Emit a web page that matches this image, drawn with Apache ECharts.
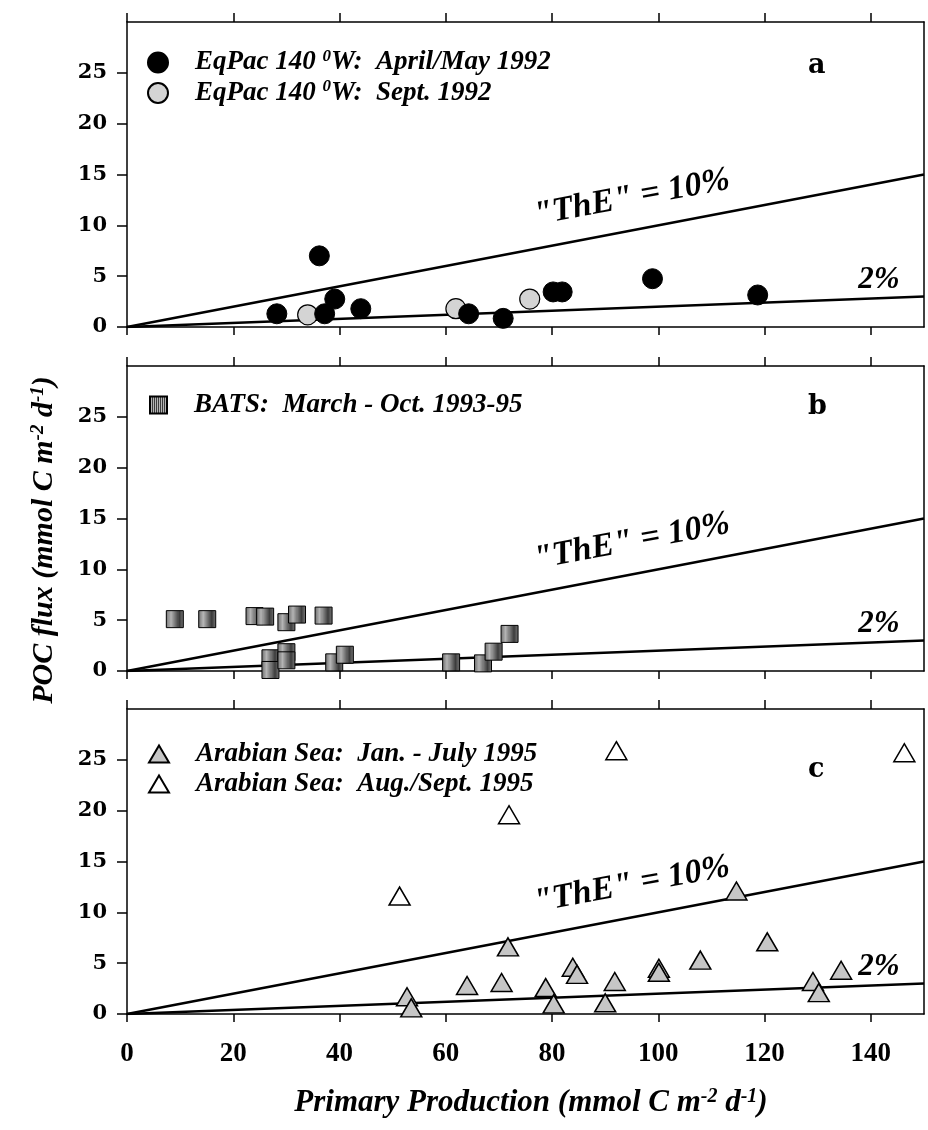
<!DOCTYPE html>
<html><head><meta charset="utf-8">
<script src="https://cdn.jsdelivr.net/npm/echarts@6/dist/echarts.min.js"></script>
<style>html,body{margin:0;padding:0;background:#fff}#c{width:928px;height:1130px}</style>
</head><body><div id="c"></div>
<script>
// ---------- data ----------
const xTicks = [0, 20, 40, 60, 80, 100, 120, 140];
const yTicks = [0, 5, 10, 15, 20, 25];
const xRange = [0, 150];
const yRange = [0, 30];

const eqpacAprMay = [[28.2,1.3],[36.2,7.0],[37.2,1.3],[39.1,2.75],[44.0,1.8],[64.3,1.3],[70.8,0.85],[80.2,3.45],[81.9,3.45],[98.9,4.75],[118.7,3.15]];
const eqpacSept = [[34.0,1.2],[61.9,1.8],[75.8,2.75]];
const bats = [[9.0,5.1],[15.1,5.1],[24.0,5.4],[26.0,5.35],[30.0,4.8],[32.0,5.55],[37.0,5.45],[27.0,1.25],[27.0,0.1],[30.0,1.85],[30.0,1.05],[39.0,0.85],[41.0,1.6],[61.0,0.85],[67.0,0.75],[69.0,1.9],[72.0,3.65]];
const arabJanJul = [[52.7,1.7],[53.5,0.6],[64.0,2.8],[70.5,3.1],[71.7,6.6],[78.8,2.6],[80.3,1.0],[83.9,4.6],[84.7,3.9],[90.0,1.1],[91.8,3.2],[100.1,4.5],[100.1,4.1],[107.9,5.3],[114.7,12.1],[120.5,7.1],[129.1,3.2],[130.2,2.1],[134.4,4.3]];
const arabAugSep = [[51.3,11.6],[71.9,19.6],[92.1,25.9],[146.3,25.7]];

const line10 = [[0,0],[150,15]];   // "ThE" = 10%
const line2  = [[0,0],[150,3]];    // 2%
const label10Pos = [[95, 12.7]];
const label2Pos  = [[141.5, 4.6]];
const panelLetters = ['a', 'b', 'c'];

const names = {
  eqA: 'EqPac 140 0W: April/May 1992',
  eqS: 'EqPac 140 0W: Sept. 1992',
  bats: 'BATS: March - Oct. 1993-95',
  arJ: 'Arabian Sea: Jan. - July 1995',
  arA: 'Arabian Sea: Aug./Sept. 1995'
};
const legendText = {
  [names.eqA]: 'EqPac 140 {sup|0}W:  April/May 1992',
  [names.eqS]: 'EqPac 140 {sup|0}W:  Sept. 1992',
  [names.bats]: 'BATS:  March - Oct. 1993-95',
  [names.arJ]: 'Arabian Sea:  Jan. - July 1995',
  [names.arA]: 'Arabian Sea:  Aug./Sept. 1995'
};

// ---------- styles ----------
const SERIF = '"Liberation Serif", "Times New Roman", serif';
const hatch = document.createElement('canvas');
hatch.width = 2; hatch.height = 2;
(function(){const g = hatch.getContext('2d');
  g.fillStyle = '#3c3c3c'; g.fillRect(0,0,1,2);
  g.fillStyle = '#b4b4b4'; g.fillRect(1,0,1,2);})();

const supStyle = {fontSize: 17, fontFamily: SERIF, fontStyle: 'italic', fontWeight: 'bold', color: '#000', padding: [0,0,12,0]};

const grids = [
  {left: 127, top: 22, width: 797, height: 305},
  {left: 127, top: 366, width: 797, height: 305},
  {left: 127, top: 709, width: 797, height: 305}
];

const axLine = {show: true, onZero: false, lineStyle: {color: '#000', width: 1.5}};
const xAxis = [], yAxis = [];
grids.forEach((g, i) => {
  xAxis.push({
    gridIndex: i, type: 'value', min: xRange[0], max: xRange[1], interval: 20, position: 'bottom',
    axisLine: axLine,
    axisTick: {show: true, inside: false, length: 8, customValues: xTicks, lineStyle: {color: '#000', width: 1.5}},
    axisLabel: {show: i === 2, customValues: xTicks, margin: 27, color: '#000',
      fontFamily: SERIF, fontWeight: 'bold', fontSize: 27,
      formatter: v => (v % 20 === 0 ? String(v) : '')},
    splitLine: {show: false}
  });
  xAxis.push({
    gridIndex: i, type: 'value', min: xRange[0], max: xRange[1], interval: 20, position: 'top',
    axisLine: axLine,
    axisTick: {show: true, inside: false, length: 9, customValues: xTicks, lineStyle: {color: '#000', width: 1.5}},
    axisLabel: {show: false}, splitLine: {show: false}
  });
  yAxis.push({
    gridIndex: i, type: 'value', min: yRange[0], max: yRange[1], interval: 5, position: 'left',
    axisLine: axLine,
    axisTick: {show: true, inside: false, length: 10, customValues: yTicks, lineStyle: {color: '#000', width: 1.5}},
    axisLabel: {show: true, customValues: yTicks, margin: 20, color: '#000',
      fontFamily: '"DejaVu Serif", serif', fontWeight: 'bold', fontSize: 21,
      formatter: v => (v % 5 === 0 && v < 30 ? String(v) : '')},
    splitLine: {show: false}
  });
  yAxis.push({
    gridIndex: i, type: 'value', min: yRange[0], max: yRange[1], position: 'right',
    axisLine: axLine, axisTick: {show: false}, axisLabel: {show: false}, splitLine: {show: false}
  });
});

const series = [];
grids.forEach((g, i) => {
  const ax = {xAxisIndex: 2 * i, yAxisIndex: 2 * i};
  [line10, line2].forEach(d => series.push(Object.assign({
    type: 'line', data: d, symbol: 'none', silent: true, z: 2,
    lineStyle: {color: '#000', width: 2.6, opacity: 1}
  }, ax)));
  series.push(Object.assign({
    type: 'scatter', data: label10Pos, symbolSize: 1, z: 3, silent: true,
    itemStyle: {color: 'rgba(0,0,0,0)', opacity: 1},
    label: {show: true, position: 'inside', formatter: '"ThE" = 10%', rotate: 10.5,
      fontFamily: SERIF, fontStyle: 'italic', fontWeight: 'bold', fontSize: 34, color: '#000'}
  }, ax));
  series.push(Object.assign({
    type: 'scatter', data: label2Pos, symbolSize: 1, z: 3, silent: true,
    itemStyle: {color: 'rgba(0,0,0,0)', opacity: 1},
    label: {show: true, position: 'inside', formatter: '2%',
      fontFamily: SERIF, fontStyle: 'italic', fontWeight: 'bold', fontSize: 31, color: '#000'}
  }, ax));
});

// panel a
series.push({name: names.eqS, type: 'scatter', xAxisIndex: 0, yAxisIndex: 0, data: eqpacSept, symbol: 'circle', symbolSize: 20, z: 4,
  itemStyle: {color: '#d4d4d4', borderColor: '#000', borderWidth: 1.2, opacity: 1}});
series.push({name: names.eqA, type: 'scatter', xAxisIndex: 0, yAxisIndex: 0, data: eqpacAprMay, symbol: 'circle', symbolSize: 20, z: 5,
  itemStyle: {color: '#000', borderColor: '#000', borderWidth: 1, opacity: 1}});
// panel b
series.push({name: names.bats, type: 'scatter', xAxisIndex: 2, yAxisIndex: 2, data: bats, symbol: 'rect', symbolSize: 17, z: 4,
  itemStyle: {color: {image: hatch, repeat: 'repeat'}, borderColor: '#000', borderWidth: 1, opacity: 1}});
// panel c
series.push({name: names.arJ, type: 'scatter', xAxisIndex: 4, yAxisIndex: 4, data: arabJanJul, symbol: 'triangle', symbolSize: [21, 18], z: 4,
  itemStyle: {color: '#c6c6c6', borderColor: '#000', borderWidth: 1.5, opacity: 1}});
series.push({name: names.arA, type: 'scatter', xAxisIndex: 4, yAxisIndex: 4, data: arabAugSep, symbol: 'triangle', symbolSize: [21, 18], z: 4,
  itemStyle: {color: '#fff', borderColor: '#000', borderWidth: 1.5, opacity: 1}});

const legendTextStyle = {fontFamily: SERIF, fontStyle: 'italic', fontWeight: 'bold', fontSize: 27, color: '#000',
  lineHeight: 28, padding: [0, 0, 0, 22], rich: {sup: supStyle}};
const mkLegend = (data, left, top, w, h) => ({
  data, left, top, orient: 'vertical', itemGap: 2, itemWidth: w, itemHeight: h,
  selectedMode: false, formatter: n => legendText[n], textStyle: legendTextStyle
});

const option = {
  animation: false,
  backgroundColor: '#fff',
  grid: grids,
  xAxis, yAxis, series,
  legend: [
    mkLegend([names.eqA, names.eqS], 142, 43, 20, 20),
    mkLegend([names.bats], 144, 386, 17, 17),
    mkLegend([names.arJ, names.arA], 143, 735, 20, 17)
  ],
  graphic: [
    {type: 'text', left: 808, top: 52, style: {text: panelLetters[0], font: 'bold 27px "DejaVu Serif", serif', fill: '#000'}},
    {type: 'text', left: 808, top: 393, style: {text: panelLetters[1], font: 'bold 27px "DejaVu Serif", serif', fill: '#000'}},
    {type: 'text', left: 808, top: 756, style: {text: panelLetters[2], font: 'bold 27px "DejaVu Serif", serif', fill: '#000'}},
    {type: 'text', x: 44, y: 540, rotation: Math.PI / 2,
      style: {text: 'POC flux (mmol C m{sup|-2} d{sup|-1})', fontFamily: SERIF, fontStyle: 'italic', fontWeight: 'bold',
        fontSize: 30, fill: '#000', align: 'center', verticalAlign: 'middle', rich: {sup: Object.assign({}, supStyle, {fill: '#000', fontSize: 19})}}},
    {type: 'text', x: 531, y: 1103,
      style: {text: 'Primary Production (mmol C m{sup|-2} d{sup|-1})', fontFamily: SERIF, fontStyle: 'italic', fontWeight: 'bold',
        fontSize: 31, fill: '#000', align: 'center', verticalAlign: 'middle', rich: {sup: Object.assign({}, supStyle, {fill: '#000', fontSize: 20})}}}
  ]
};

const chart = echarts.init(document.getElementById('c'), null, {renderer: 'canvas'});
chart.setOption(option);
</script>
</body></html>
